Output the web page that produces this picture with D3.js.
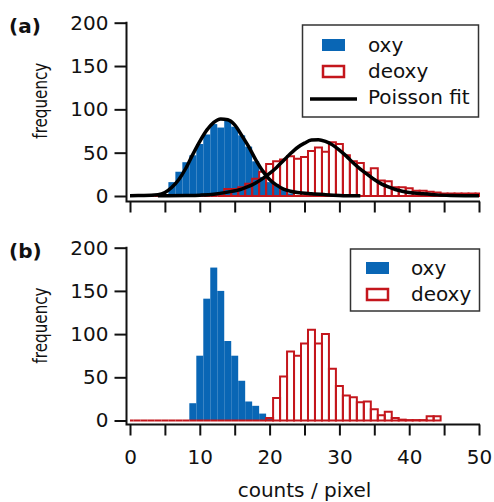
<!DOCTYPE html>
<html lang="en">
<head>
<meta charset="utf-8">
<script src="https://d3js.org/d3.v7.min.js"></script>
<style>
body { margin: 0; background: #fff; }
text { font-family: "DejaVu Sans", sans-serif; fill: #111; }
</style>
</head>
<body>
<svg width="494" height="502"></svg>
<script>

// histogram bins are 1 count wide, centred on integers
var binsA = d3.range(0, 51);
var oxyA = [0, 0, 0, 0, 0, 0, 16, 28, 39, 47, 60, 71, 83, 79, 87, 80, 70, 57, 40, 22,
            16, 14, 8, 3, 1, 0, 0, 0, 0, 0, 0, 0, 0, 0, 0, 0, 0, 0, 0, 0,
            0, 0, 0, 0, 0, 0, 0, 0, 0, 0, 0];
var deoxyA = [0, 0, 0, 0, 0, 0, 0, 0, 0, 0, 0, 0, 0, 0, 8, 8, 10, 14, 20, 28,
              37, 40, 42, 46, 43, 45, 52, 56, 51, 62, 60, 47, 40, 38, 27, 32, 18, 17, 10, 10,
              9, 6, 6, 5, 4, 3, 3, 3, 3, 3, 3];

var binsB = d3.range(0, 45);
var oxyB = [0, 0, 0, 0, 0, 0, 0, 0, 0, 20, 75, 141, 177, 150, 92, 75, 46, 22, 17, 8,
            2, 0, 0, 0, 0, 0, 0, 0, 0, 0, 0, 0, 0, 0, 0, 0, 0, 0, 0, 0,
            0, 0, 0, 0, 0];
var deoxyB = [0, 0, 0, 0, 0, 0, 0, 0, 0, 0, 0, 0, 0, 0, 0, 0, 0, 0, 0, 0,
              3, 26, 51, 80, 75, 89, 105, 89, 100, 60, 40, 29, 27, 21, 22, 13, 6, 10, 3, 1,
              0.5, 0.5, 0.5, 5, 5];

// Poisson fit curves
var fitOxyX = [0, 2, 4, 5, 6, 7, 8, 9, 10, 11, 12, 13, 14, 15, 16, 17, 18, 19, 20, 21, 22, 23, 24, 26, 28, 30, 33];
var fitOxyY = [0.4, 0.5, 1.5, 4, 10, 19, 32, 48, 63, 76, 85, 89, 88, 82, 70, 57, 42, 29, 19, 12.5, 8, 5.5, 4, 2.5, 1.5, 0.7, 0.2];
var fitDeoxyX = [4, 8, 10, 12, 14, 16, 17, 18, 19, 20, 21, 22, 23, 24, 25, 26, 27, 28, 29, 30, 31, 32, 33, 34, 35,
                 36, 37, 38, 39, 40, 42, 44, 46, 48, 50];
var fitDeoxyY = [0.3, 0.6, 1, 2, 4.5, 8, 11, 15, 20, 26, 33, 41, 49, 56, 61, 64.5, 65, 63, 59, 53, 46, 38, 31, 25, 19,
                 14, 10.5, 7.5, 5.5, 4, 2.5, 1.3, 0.7, 0.4, 0.2];

var xTicks = d3.range(0, 51, 5);
var yTicks = [0, 50, 100, 150, 200];

var blue = "#0966b5", red = "#c4161c";

var svg = d3.select("svg");

var x = d3.scaleLinear().domain([0, 50]).range([130, 479]);
var yA = d3.scaleLinear().domain([0, 200]).range([196, 22.7]);
var yB = d3.scaleLinear().domain([0, 200]).range([420.5, 247.7]);

var axisX = 126.5;

function drawPanel(y, axisY, bins, oxy, deoxy, label, showLabels) {
	var g = svg.append("g");

	// blue filled histogram
	g.selectAll(".oxy")
	.data(bins.filter(function (c, i) { return oxy[i] > 0; }))
	.enter().append("rect")
	.attr("fill", blue)
	.attr("x", function (c) { return x(c - 0.5); })
	.attr("width", function (c) { return x(c + 0.5) - x(c - 0.5); })
	.attr("y", function (c) { return y(oxy[bins.indexOf(c)]); })
	.attr("height", function (c) { return y(0) - y(oxy[bins.indexOf(c)]); });

	// red outline histogram, drawn over the blue one (paths so empty bins still show a line)
	g.selectAll(".deoxy")
	.data(bins)
	.enter().append("path")
	.attr("fill", "none")
	.attr("stroke", red)
	.attr("stroke-width", 2)
	.attr("d", function (c, i) {
		var x0 = x(Math.max(0, c - 0.5)), x1 = x(Math.min(50, c + 0.5));
		return "M" + x0 + "," + y(0) + "V" + y(deoxy[i]) + "H" + x1 + "V" + y(0) + "Z";
	});

	// axes
	var gx = g.append("g")
	.attr("transform", "translate(0," + axisY + ")")
	.call(d3.axisBottom(x).tickValues(xTicks).tickSize(11).tickPadding(14)
		.tickFormat(function (d) { return showLabels && d % 10 === 0 ? d : ""; }));
	gx.select(".domain").remove();
	gx.selectAll("line").attr("stroke", "#111").attr("stroke-width", 2);
	gx.selectAll("text").attr("font-size", 20).attr("font-family", "DejaVu Sans");

	var gy = g.append("g")
	.attr("transform", "translate(" + axisX + ",0)")
	.call(d3.axisLeft(y).tickValues(yTicks).tickSize(12).tickPadding(6));
	gy.select(".domain").remove();
	gy.selectAll("line").attr("stroke", "#111").attr("stroke-width", 2);
	gy.selectAll("text").attr("font-size", 20).attr("font-family", "DejaVu Sans");

	g.append("path")
	.attr("d", "M" + axisX + "," + (y(200) - 1) + "V" + axisY + "H" + (x(50) + 1))
	.attr("fill", "none")
	.attr("stroke", "#111")
	.attr("stroke-width", 2);

	g.append("text")
	.attr("transform", "translate(47," + y(110) + ") rotate(-90)")
	.attr("text-anchor", "middle")
	.attr("font-size", 20)
	.attr("textLength", 76)
	.attr("lengthAdjust", "spacingAndGlyphs")
	.text("frequency");

	g.append("text")
	.attr("x", 9)
	.attr("y", y(200) + 10)
	.attr("font-size", 20)
	.attr("font-weight", "bold")
	.text(label);

	return g;
}

var gA = drawPanel(yA, 201.5, binsA, oxyA, deoxyA, "(a)", false);
var gB = drawPanel(yB, 424.5, binsB, oxyB, deoxyB, "(b)", true);

// Poisson fits
var line = d3.line()
	.x(function (d) { return x(d[0]); })
	.y(function (d) { return yA(d[1]); })
	.curve(d3.curveMonotoneX);

[[fitOxyX, fitOxyY], [fitDeoxyX, fitDeoxyY]].forEach(function (f) {
	gA.append("path")
	.datum(f[0].map(function (v, i) { return [v, f[1][i]]; }))
	.attr("d", line)
	.attr("fill", "none")
	.attr("stroke", "#000")
	.attr("stroke-width", 3.5);
});

svg.append("text")
	.attr("x", x(25))
	.attr("y", 497)
	.attr("text-anchor", "middle")
	.attr("font-size", 20)
	.text("counts / pixel");

// legends
function legend(box, rows) {
	var g = svg.append("g");
	g.append("rect")
	.attr("x", box[0]).attr("y", box[1])
	.attr("width", box[2]).attr("height", box[3])
	.attr("fill", "#fff")
	.attr("stroke", "#333")
	.attr("stroke-width", 1.5);
	rows.forEach(function (r) {
		if (r.type === "oxy") {
			g.append("rect").attr("x", r.sx).attr("y", r.y - 13).attr("width", 23).attr("height", 12).attr("fill", blue);
		} else if (r.type === "deoxy") {
			g.append("rect").attr("x", r.sx + 1).attr("y", r.y - 12).attr("width", 21).attr("height", 11)
			.attr("fill", "none").attr("stroke", red).attr("stroke-width", 2.5);
		} else {
			g.append("line").attr("x1", r.sx - 12).attr("x2", r.sx + 35).attr("y1", r.y - 5).attr("y2", r.y - 5)
			.attr("stroke", "#000").attr("stroke-width", 3.5);
		}
		g.append("text").attr("x", r.tx).attr("y", r.y).attr("font-size", 20).text(r.text);
	});
}

legend([302.5, 25, 176, 92], [
	{type: "oxy", sx: 322, tx: 368, y: 52, text: "oxy"},
	{type: "deoxy", sx: 322, tx: 368, y: 78, text: "deoxy"},
	{type: "fit", sx: 322, tx: 368, y: 104, text: "Poisson fit"}
]);

legend([350.5, 249, 129, 62], [
	{type: "oxy", sx: 366, tx: 411, y: 275, text: "oxy"},
	{type: "deoxy", sx: 366, tx: 411, y: 301, text: "deoxy"}
]);

</script>
</body>
</html>
